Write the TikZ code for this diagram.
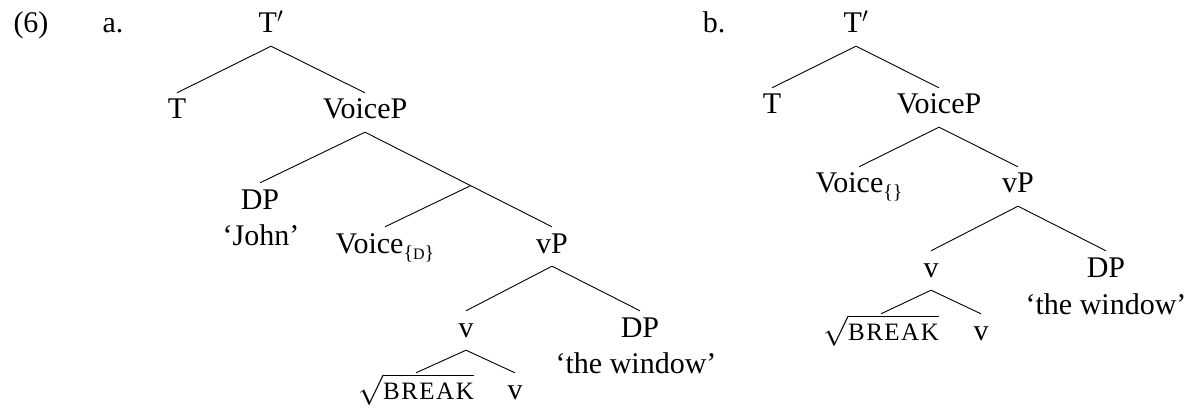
\RequirePackage{fix-cm}
\documentclass[tikz,border=0pt]{standalone}
\usepackage{fontspec}
\setmainfont{Liberation Serif}
\usepackage{graphicx}
\usetikzlibrary{calc}
\newcommand{\mysub}[1]{\raisebox{-6pt}{\fontsize{20}{0}\selectfont\{#1\}}}
\newcommand{\myroot}{$\sqrt{\mbox{\fontsize{25}{0}\selectfont\addfontfeature{LetterSpace=6}BREAK}}$}
\begin{document}
\begin{tikzpicture}[x=1pt,y=-1pt,
  lab/.style={inner sep=0pt, anchor=base, font=\fontsize{30}{36}\selectfont},
  tn/.style={lab, text height=20pt, text depth=7pt, inner ysep=6pt, inner xsep=0pt},
  edge/.style={draw=black, line width=0.9pt}]
\useasboundingbox (0,0) rectangle (1195,409);
% ---------- (6) a. ----------
\node[lab] (ex) at (31,33) {(6)};
\node[lab] (la) at (113,33) {a.};
\node[tn] (aTbar) at (271,33) {T$'$};
\node[tn] (aT) at (177,119) {T};
\node[tn] (aVoiceP) at (365,119) {VoiceP};
\node[tn] (aDP1) at (260,209) {DP};
\node[lab] (aJohn) at (261,245) {‘John’};
\node[tn] (aVoice) at (385,253) {Voice\mysub{{\fontsize{16}{0}\selectfont D}}};
\node[tn] (avP) at (552,253) {vP};
\node[tn] (av) at (466,337) {v};
\node[tn] (aDP2) at (640,337) {DP};
\node[lab] (aWin) at (636,373) {‘the window’};
\node[tn] (aRoot) at (416,399) {\myroot};
\node[tn] (av2) at (515,399) {v};
\draw[edge] (aTbar.south) -- (aT.north);
\draw[edge] (aTbar.south) -- (aVoiceP.north);
\draw[edge] (aVoiceP.south) -- (aDP1.north);
\draw[edge] (aVoiceP.south) -- (avP.north);
\coordinate (abar) at ($(aVoiceP.south)!0.565!(avP.north)$);
\draw[edge] (abar) -- (aVoice.north);
\draw[edge] (avP.south) -- (av.north);
\draw[edge] (avP.south) -- (aDP2.north);
\draw[edge] (av.south) -- (aRoot.north);
\draw[edge] (av.south) -- (av2.north);
% ---------- b. ----------
\node[lab] (lb) at (714,33) {b.};
\node[tn] (bTbar) at (856,33) {T$'$};
\node[tn] (bT) at (772,114) {T};
\node[tn] (bVoiceP) at (939,114) {VoiceP};
\node[tn] (bVoice) at (859,193) {Voice\mysub{}};
\node[tn] (bvP) at (1018,193) {vP};
\node[tn] (bv) at (931,277) {v};
\node[tn] (bDP) at (1106,277) {DP};
\node[lab] (bWin) at (1106,314) {‘the window’};
\node[tn] (bRoot) at (881,340) {\myroot};
\node[tn] (bv2) at (981,340) {v};
\draw[edge] (bTbar.south) -- (bT.north);
\draw[edge] (bTbar.south) -- (bVoiceP.north);
\draw[edge] (bVoiceP.south) -- (bVoice.north);
\draw[edge] (bVoiceP.south) -- (bvP.north);
\draw[edge] (bvP.south) -- (bv.north);
\draw[edge] (bvP.south) -- (bDP.north);
\draw[edge] (bv.south) -- (bRoot.north);
\draw[edge] (bv.south) -- (bv2.north);
\end{tikzpicture}
\end{document}
